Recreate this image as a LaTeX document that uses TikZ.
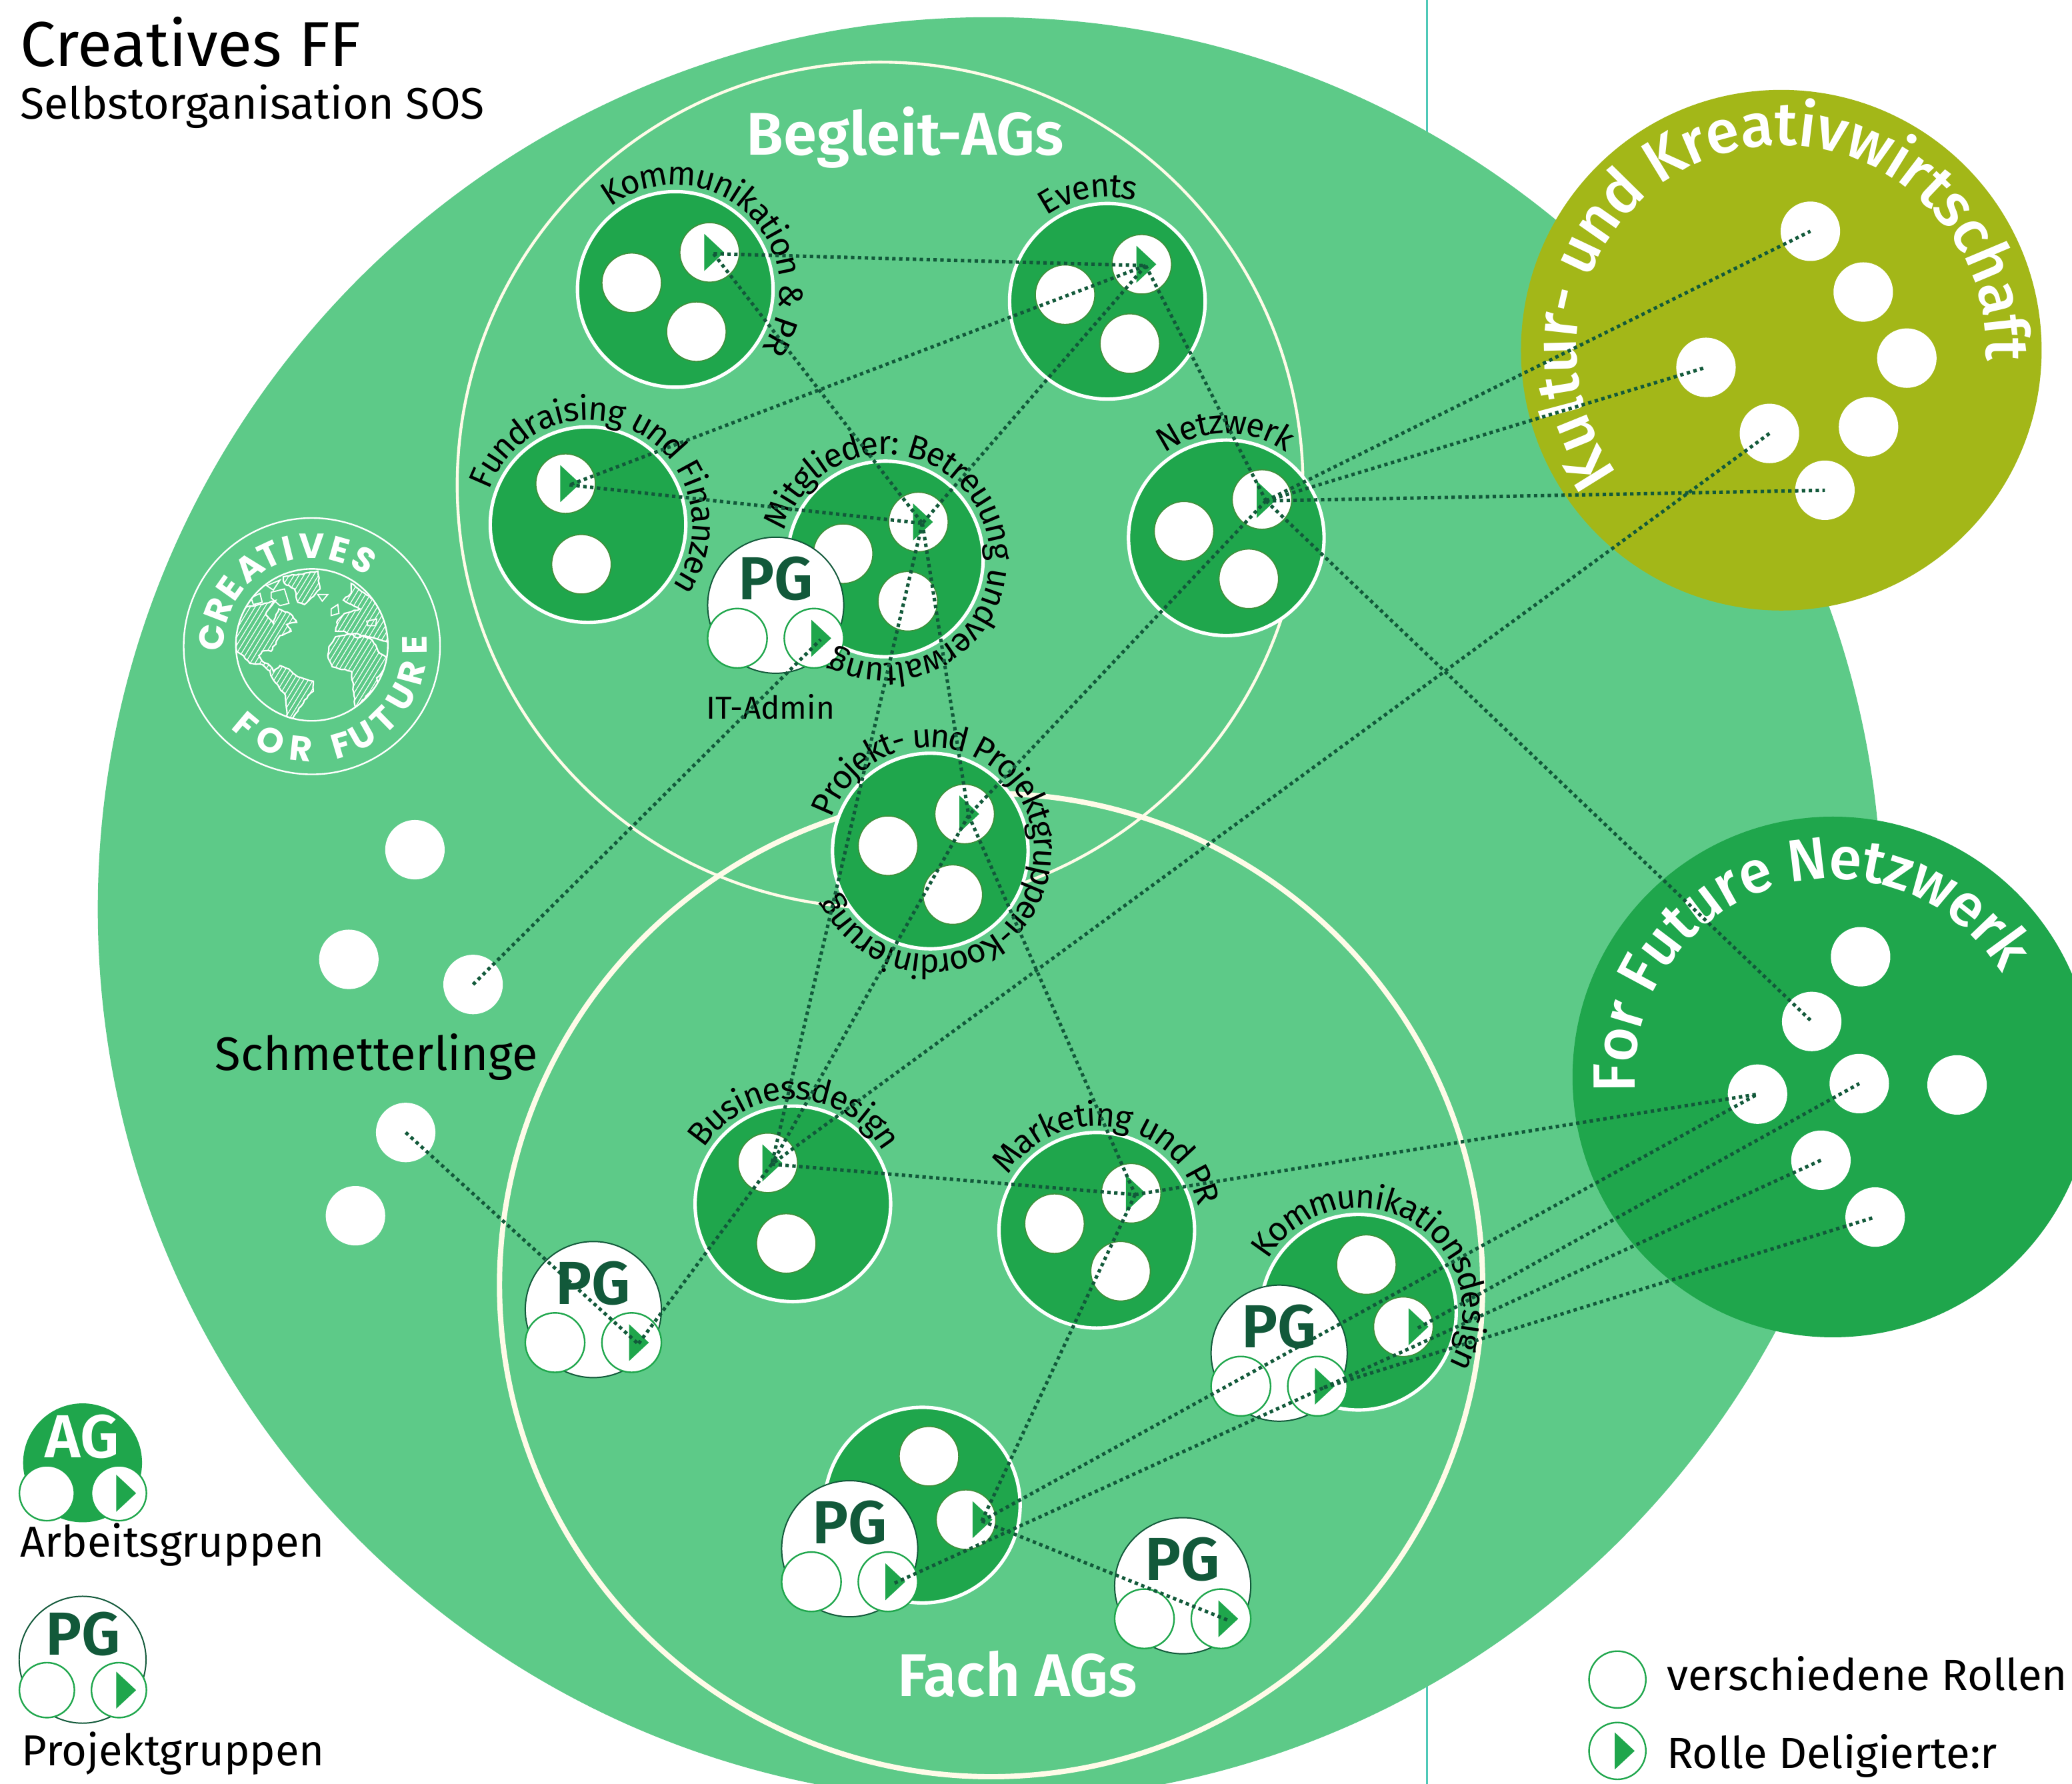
\documentclass[tikz,border=0pt]{standalone}
\usepackage{fontspec}
\setmainfont{Fira Sans}
\newfontfamily\logofont{Poppins}
\newfontfamily\medfont{Fira Sans Medium}
\newfontfamily\semifont{Fira Sans SemiBold}
\usetikzlibrary{decorations.text,decorations.pathmorphing}
\definecolor{bigc}{HTML}{5DCA88}
\definecolor{agc}{HTML}{1FA64C}
\definecolor{oli}{HTML}{A3B718}
\definecolor{drk}{HTML}{12593A}
\definecolor{crm}{HTML}{FFFBE8}
\definecolor{tea}{HTML}{4FC9B8}
\definecolor{edg}{HTML}{3F8F3A}
\newcommand\lab{\fontsize{12.6}{14}\selectfont}
\newcommand\biglab{\medfont\fontsize{23}{26}\selectfont\color{white}}
\newcommand\biglabb{\medfont\fontsize{22.5}{26}\selectfont\color{white}}
\tikzset{
  big/.style={circle,inner sep=0pt,minimum size=#1},
  agn/.style={circle,inner sep=0pt,minimum size=74pt,fill=agc,draw=white,line width=1.3pt},
  dotn/.style={circle,inner sep=0pt,minimum size=22.5pt,fill=white,draw=edg,line width=.4pt},
  wdot/.style={circle,inner sep=0pt,minimum size=22.5pt,fill=white},
  smalln/.style={circle,inner sep=0pt,minimum size=22.5pt,fill=white,draw=agc,line width=.6pt},
  legn/.style={circle,inner sep=0pt,minimum size=20.8pt,fill=white,draw=agc,line width=.6pt},
  pgn/.style={circle,inner sep=0pt,minimum size=51.5pt,fill=white,draw=drk,line width=.5pt},
  pgt/.style={inner sep=0pt,font=\semifont\fontsize{23}{26}\selectfont,text=drk},
  conn/.style={draw=drk,line width=1.3pt,dash pattern=on 1.3pt off 1.3pt},
  txt/.style={inner sep=0pt,anchor=base west},
  logol/.style={inner sep=0pt,text=white,font=\logofont\fontsize{13.2}{14}\selectfont\bfseries},
}
\newcommand\arclab[5]{\path[decorate,decoration={text along path,text align=center,raise=-3.5pt,text={|\lab|#5}}] (#1,#2) ++(#4-160:86) arc[start angle=#4-160,end angle=#4+160,radius=86];}
\newcommand\tri[2]{\fill[agc] (#1.center) ++(#2,-14) -- ++(15,14) -- ++(-15,14) -- cycle;
  \coordinate (#1-e) at ([shift={(#2+7,1)}]#1.center);}
\newcommand\pgroup[3]{\node[pgn] (#1) at (#2,#3) {};
  \node[pgt] (#1-t) at ([shift={(0,-20)}]#1.center) {PG};
  \node[smalln] (#1-a) at ([shift={(-29,25)}]#1.center) {};
  \node[smalln] (#1-b) at ([shift={(29,25)}]#1.center) {};
  \tri{#1-b}{-2}}
\newcommand\landpaths{
  (360,480)--(430,470)--(490,452)--(460,490)--(445,515)--(480,555)--(505,490)--(555,510)--(585,550)--(540,560)--(560,590)--(510,610)--(470,680)--(430,680)--(415,700)--(430,725)--(465,745)--(480,770)--(510,745)--(550,760)--(590,795)--(660,815)--(660,860)--(620,900)--(590,950)--(565,985)--(540,975)--(535,880)--(475,800)--(465,770)--(430,740)--(375,735)--(345,700)--(315,680)--(300,560)--cycle
  (525,345)--(680,320)--(690,400)--(620,470)--(590,460)--(575,400)--(530,375)--cycle
  (830,375)--(1000,500)--(1000,640)--(930,620)--(880,610)--(860,620)--(800,590)--(760,590)--(770,540)--(800,510)--(870,490)--(795,450)--(830,420)--cycle
  (730,660)--(760,615)--(850,600)--(925,630)--(960,690)--(1000,715)--(975,770)--(945,800)--(950,830)--(850,935)--(830,770)--(745,750)--(725,700)--cycle
}
\begin{document}
\begin{tikzpicture}[x=.5pt,y=-.5pt]
\useasboundingbox (0,0) rectangle (1568,1350);
\clip (0,0) rectangle (1568,1350);
% vertical line and big circles
\coordinate (vt) at (1080,0); \coordinate (vb) at (1080,1350);
\draw[tea,line width=.7pt] (vt) -- (vb);
\node[big=675pt,fill=bigc] (main) at (749,688) {};
\node[big=320pt,draw=crm,line width=1.1pt] (begleit) at (666,367) {};
\node[big=372pt,draw=crm,line width=2pt] (fach) at (750,972.5) {};
\node[big=197pt,fill=oli] (kultur) at (1348,265) {};
\node[big=197pt,fill=agc] (ffn) at (1387,815) {};
% logo
\node[big=97pt,draw=white,line width=.6pt] (logo) at (236,489) {};
\node[big=57.5pt,draw=white,line width=.6pt] (globe) at (236,488) {};
\begin{scope}[shift={(126.1,378.4)},x=.0841pt,y=-.0841pt]
  \begin{scope}
    \clip (652,655) circle[radius=342];
    \pgfmathsetseed{7}
    \draw[white,line width=.55pt,decorate,decoration={random steps,segment length=1.2pt,amplitude=.25pt}] \landpaths;
    \begin{scope}
      \clip \landpaths;
      \foreach \k in {0,22,...,1500} \draw[white,line width=.3pt] (\k-200,1100) -- (\k+350,200);
    \end{scope}
    \draw[white,line width=.45pt] (680,425)--(725,425)--(700,455)--cycle (740,490)--(770,470)--(775,510)--(740,520)--cycle (380,440)--(420,420)--(430,460)--(390,470)--cycle (450,385)--(510,360)--(480,405)--cycle (470,415)--(530,400)--(550,465)--(510,475)--(470,440)--cycle (900,545)--(945,535)--(940,565)--(905,565)--cycle;
  \end{scope}
\end{scope}
\foreach \c/\t [count=\i] in {C/-175,R/-159,E/-144.7,A/-128.4,T/-115,I/-103.7,V/-90,E/-74,S/-59}
  \node[logol,rotate={-(\t+90)}] (lc\i) at ([shift={(\t:76)}]logo.center) {\c};
\foreach \c/\t [count=\i] in {F/130,O/113.5,R/96,F/73.5,U/60.6,T/45.6,U/29.6,R/15,E/-0.6}
  \node[logol,rotate={90-\t}] (lf\i) at ([shift={(\t:78)}]logo.center) {\c};
% satellite dots
\foreach \n/\x/\y in {k1/1370/175,k2/1410/221,k3/1443/271,k4/1291/278,k5/1339/328,k6/1414/323,k7/1381/371,
  f1/1408/724,f2/1371/773,f3/1330/828,f4/1407/820,f5/1481/821,f6/1378/878,f7/1419/921,
  s1/314/643,s2/264/726,s3/358/745,s4/307/857,s5/269/920}
  \node[wdot] (\n) at (\x,\y) {};
% AGs
\node[agn] (akom) at (511,219) {};
\node[dotn] (ako1) at (478,214) {}; \node[dotn] (ako2) at (537,191) {}; \node[dotn] (ako3) at (527,251) {}; \tri{ako2}{-4}
\node[agn] (aev) at (838,228) {};
\node[dotn] (aev1) at (806,223) {}; \node[dotn] (aev2) at (864,200) {}; \node[dotn] (aev3) at (855,260) {}; \tri{aev2}{-4}
\node[agn] (afu) at (445,397) {};
\node[dotn] (afu1) at (428,366) {}; \node[dotn] (afu2) at (440,427) {}; \tri{afu1}{-4}
\node[agn] (ami) at (670,423) {};
\node[dotn] (ami1) at (638,419) {}; \node[dotn] (ami2) at (695,395) {}; \node[dotn] (ami3) at (687,455) {}; \tri{ami2}{-4}
\node[agn] (ane) at (928,407) {};
\node[dotn] (ane1) at (896,402) {}; \node[dotn] (ane2) at (955,378) {}; \node[dotn] (ane3) at (945,438) {}; \tri{ane2}{-4}
\node[agn] (apr) at (704,644) {};
\node[dotn] (apr1) at (672,640) {}; \node[dotn] (apr2) at (730,616) {}; \node[dotn] (apr3) at (721,677) {}; \tri{apr2}{-4}
\node[agn] (abu) at (600,911) {};
\node[dotn] (abu1) at (581,880) {}; \node[dotn] (abu2) at (595,941) {}; \tri{abu1}{-4}
\node[agn] (ama) at (830,931) {};
\node[dotn] (ama1) at (798,926) {}; \node[dotn] (ama2) at (856,903) {}; \node[dotn] (ama3) at (848,962) {}; \tri{ama2}{-4}
\node[agn] (akd) at (1028,993) {};
\node[dotn] (akd1) at (1034,957) {}; \node[dotn] (akd2) at (1062,1004) {}; \tri{akd2}{4}
\node[agn] (abo) at (698,1139) {};
\node[dotn] (abo1) at (703,1102) {}; \node[dotn] (abo2) at (731,1150) {}; \tri{abo2}{5}
% PGs
\pgroup{pm}{587}{458}
\pgroup{pl}{449}{991}
\pgroup{pk}{968}{1024}
\pgroup{pb}{643}{1172}
\pgroup{pi}{895}{1200}
% arc labels
\arclab{511}{219}{79}{-47}{Kommunikation {\&} PR}
\arclab{838}{228}{79}{-100}{Events}
\arclab{445}{397}{79}{-62.5}{Fundraising und Finanzen}
\arclab{670}{423}{79}{-22.5}{Mitglieder: Betreuung undverwaltung}
\arclab{928}{407}{79}{-90.5}{Netzwerk}
\path[decorate,decoration={text along path,text align=center,raise=-6.2pt,text={|\lab|Projekt- und Projektgruppen-Koordinierung}}] (704,644) ++(-180:91) arc[start angle=-180,end angle=174,radius=91];
\arclab{600}{911}{79}{-89}{Businessdesign}
\arclab{830}{931}{79}{-80.5}{Marketing und PR}
\arclab{1028}{993}{79}{-60}{Kommunikationsdesign}
\path[decorate,decoration={text along path,text align=center,raise=-2.5pt,text={|\biglab|Kultur- und Kreativwirtschaft}}] (1348,265) ++(-267:160) arc[start angle=-267,end angle=53,radius=160];
\path[decorate,decoration={text along path,text align=center,raise=-2.5pt,text={|\biglabb|For Future Netzwerk}}] (1387,815) ++(-268:155) arc[start angle=-268,end angle=52,radius=155];
% texts
\node[txt,font=\fontsize{24}{28}\selectfont] (title) at (15,50) {Creatives FF};
\node[txt,font=\fontsize{16.7}{20}\selectfont] (sub) at (15,90) {Selbstorganisation SOS};
\node[inner sep=0pt,font=\semifont\fontsize{22.8}{26}\selectfont,text=white] (tb) at (685,104) {Begleit-AGs};
\node[inner sep=0pt,font=\semifont\fontsize{22.8}{26}\selectfont,text=white] (tf) at (770,1267) {Fach AGs};
\node[inner sep=0pt,font=\fontsize{17.8}{22}\selectfont] (ts) at (285,800) {Schmetterlinge};
\node[inner sep=0pt,font=\fontsize{12}{14}\selectfont] (tit) at (583,535) {IT-Admin};
% legend
\node[circle,inner sep=0pt,minimum size=45pt,fill=agc] (lag) at (62.5,1107) {};
\node[pgt,text=white] (lagt) at (62,1087) {AG};
\node[legn] (lag1) at (35.5,1130) {}; \node[legn] (lag2) at (90,1130) {}; \tri{lag2}{-2}
\node[txt,font=\fontsize{16.4}{20}\selectfont] (t1) at (15,1178) {Arbeitsgruppen};
\node[circle,inner sep=0pt,minimum size=48pt,fill=white,draw=drk,line width=.5pt] (lpg) at (62.5,1256) {};
\node[pgt] (lpgt) at (63,1236.5) {PG};
\node[legn] (lpg1) at (35.5,1279) {}; \node[legn] (lpg2) at (90,1279) {}; \tri{lpg2}{-2}
\node[txt,font=\fontsize{16.4}{20}\selectfont] (t2) at (16,1336) {Projektgruppen};
\node[legn,minimum size=21.5pt] (r1) at (1224,1271) {};
\node[legn,minimum size=21.5pt] (r2) at (1224,1325) {}; \tri{r2}{-2}
\node[txt,font=\fontsize{16.5}{20}\selectfont] (t3) at (1261,1279) {verschiedene Rollen};
\node[txt,font=\fontsize{16.5}{20}\selectfont] (t4) at (1261,1338) {Rolle Deligierte:r};
% connectors
\foreach \a/\b in {ako2-e/aev2-e,ako2-e/ami2-e,aev2-e/afu1-e,aev2-e/ami2-e,aev2-e/ane2-e,afu1-e/ami2-e,
  ami2-e/apr2-e,ami2-e/abu1-e,ane2-e/apr2-e,ane2-e/k1,ane2-e/k4,ane2-e/k7,ane2-e/f2,
  apr2-e/abu1-e,apr2-e/ama2-e,k5/abu1-e,abu1-e/ama2-e,abu1-e/pl-b-e,ama2-e/f3,ama2-e/abo2-e,
  abo2-e/f3,abo2-e/pi-b-e,akd2-e/f4,pk-b-e/f6,pk-b-e/f7,pb-b-e/pk-b-e,s3/pm-b-e,s4/pl-b-e}
  \draw[conn] (\a.center) -- (\b.center);
\end{tikzpicture}
\end{document}
